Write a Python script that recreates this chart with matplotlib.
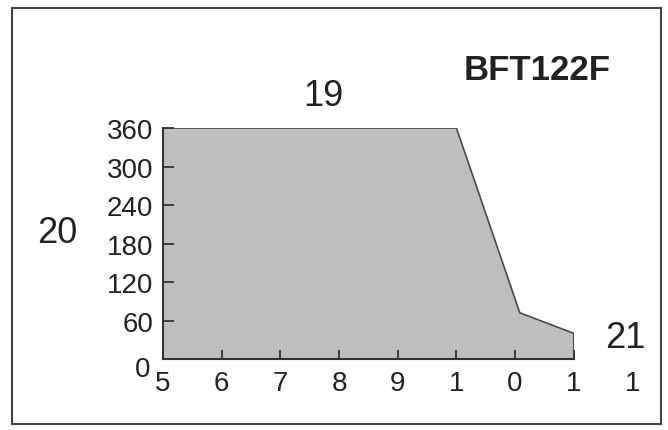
import matplotlib

matplotlib.use('Agg')
import matplotlib.pyplot as plt
import matplotlib.transforms as mtransforms
from matplotlib.patches import Rectangle

plt.rcParams['font.family'] = ['Liberation Sans', 'DejaVu Sans']

# outline of the operating area
area_x = [5, 5, 10, 11.08, 12, 12]
area_y = [0, 360, 360, 72, 40, 0]

x_ticks = [5, 6, 7, 8, 9, 10, 11, 12]
x_labels = ['5', '6', '7', '8', '9', '1', '0', '1']
extra_x = 13
extra_label = '1'
y_ticks = [0, 60, 120, 180, 240, 300, 360]
y_labels = ['0', '60', '120', '180', '240', '300', '360']

title = 'BFT122F'
top_label = '19'
left_label = '20'
right_label = '21'

fig = plt.figure(figsize=(6.68, 4.31), dpi=100)
ax = fig.add_axes([0.244, 0.1647, 0.615, 0.536])

ax.fill(area_x, area_y, facecolor='#bebebe', edgecolor='#4a4a4a', linewidth=1.2, zorder=1)

ax.set_xlim(5, 12)
ax.set_ylim(0, 360)
ax.set_xticks(x_ticks)
ax.set_xticklabels(x_labels)
ax.set_yticks(y_ticks)
ax.set_yticklabels(y_labels)

for side in ['top', 'right']:
    ax.spines[side].set_visible(False)
for side in ['left', 'bottom']:
    ax.spines[side].set_color('#333333')
    ax.spines[side].set_linewidth(1.5)
    ax.spines[side].set_zorder(3)

ax.tick_params(axis='y', direction='in', length=8, width=1.3, color='#333333',
               labelsize=20, pad=7, labelcolor='#222222')
ax.tick_params(axis='x', direction='in', length=6.5, width=1.3, color='#333333',
               labelsize=20, pad=8, labelcolor='#222222')
ax.set_facecolor('none')

# the "0" on the y axis sits a bit lower
zero = ax.get_yticklabels()[0]
zero.set_transform(zero.get_transform() +
                   mtransforms.ScaledTranslation(-2 / 72, -5 / 72, fig.dpi_scale_trans))

# trailing label past the end of the axis
ax.text(extra_x, 0, extra_label, fontsize=20, color='#222222', ha='center', va='top',
        clip_on=False,
        transform=ax.get_xaxis_transform() +
        mtransforms.ScaledTranslation(0, -8 / 72, fig.dpi_scale_trans))

fig.text(323 / 668, 1 - 97 / 431, top_label, fontsize=26, ha='center', va='center', color='#222222')
fig.text(57 / 668, 1 - 234 / 431, left_label, fontsize=26, ha='center', va='center', color='#222222')
fig.text(625 / 668, 1 - 339 / 431, right_label, fontsize=26, ha='center', va='center', color='#222222')
fig.text(537 / 668, 1 - 71 / 431, title, fontsize=25, fontweight='bold', ha='center', va='center',
         color='#222222')

fig.patches.append(Rectangle((12 / 668, 6 / 431), 649 / 668, 416 / 431, transform=fig.transFigure,
                             fill=False, edgecolor='#444444', linewidth=1.5))

fig.savefig('out.png', dpi=100)
